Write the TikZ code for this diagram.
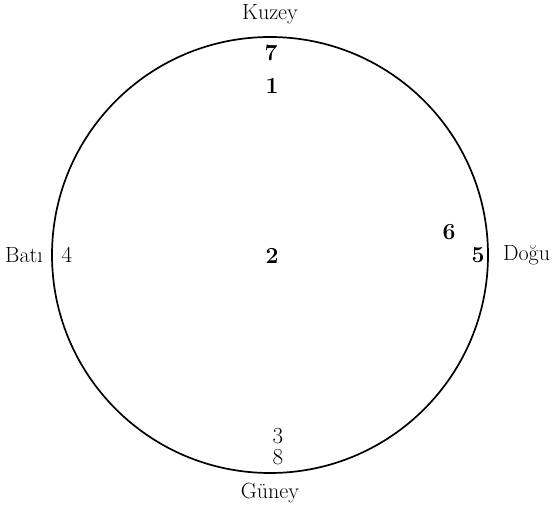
\documentclass[tikz,border=0pt]{standalone}
\usetikzlibrary{positioning}
\tikzset{
    compass/.style={font=\fontsize{22}{26}\selectfont, inner sep=0pt},
    num/.style={font=\fontsize{23}{27}\selectfont\bfseries, inner sep=0pt},
    numlight/.style={font=\fontsize{23}{27}\selectfont, inner sep=0pt},
}
\begin{document}
\begin{tikzpicture}[x=1pt, y=-1pt]
    \useasboundingbox (0,0) rectangle (554,510);
    \node[draw, circle, line width=1.7pt, minimum size=436pt, inner sep=0pt] (ring) at (270,255) {};
    \node[compass, above=12pt of ring] (north) {Kuzey};
    \node[compass, below=9pt of ring] (south) {Güney};
    \node[compass, left=8pt of ring] (west) {Batı};
    \node[compass, right=14pt of ring] (east) {Doğu};
    \node[num] (p7) at (271,53) {7};
    \node[num] (p1) at (272,86) {1};
    \node[num] (p2) at (272,256) {2};
    \node[numlight] (p4) at (67,255) {4};
    \node[num] (p6) at (449,232) {6};
    \node[num] (p5) at (478,255) {5};
    \node[numlight] (p3) at (278,436) {3};
    \node[numlight] (p8) at (278,457) {8};
\end{tikzpicture}
\end{document}
